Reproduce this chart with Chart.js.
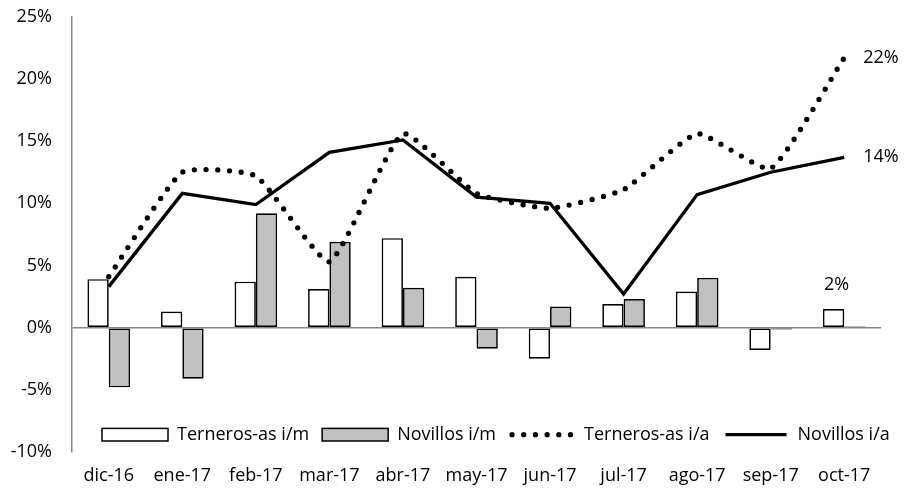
<!DOCTYPE html>
<html>
  <head>
    <script src="https://cdn.jsdelivr.net/npm/chart.js@4.4.0/dist/chart.umd.min.js"></script>
    <style>
      body {
        margin: 0;
        background-color: white;
      }
    </style>
  </head>
  <body>
    <canvas id="myChart" width="921" height="490"></canvas>
  <script>
    // months on the x axis
    let months = ['dic-16', 'ene-17', 'feb-17', 'mar-17', 'abr-17', 'may-17', 'jun-17', 'jul-17', 'ago-17', 'sep-17', 'oct-17'];
    // monthly change (%), bars
    let ternerosMes = [3.9, 1.3, 3.7, 3.1, 7.2, 4.1, -2.5, 1.9, 2.9, -1.8, 1.5];
    let novillosMes = [-4.8, -4.1, 9.2, 6.9, 3.2, -1.7, 1.7, 2.3, 4.0, -0.15, 0.1];
    // yearly change (%), lines
    let ternerosAnio = [4.1, 12.5, 12.2, 5.3, 15.6, 10.8, 9.6, 11.1, 15.6, 12.8, 21.7];
    let novillosAnio = [3.3, 10.8, 9.9, 14.1, 15.1, 10.5, 10.0, 2.7, 10.7, 12.5, 13.7];
    // y axis ticks
    let yTicks = [-10, -5, 0, 5, 10, 15, 20, 25];

    let fontFamily = "'Open Sans', sans-serif";
    let gray = '#868686';

    // value labels at the end of the series
    let endLabels = {
      id: 'endLabels',
      afterDatasetsDraw(chart) {
        let ctx = chart.ctx;
        ctx.save();
        ctx.font = '18px ' + fontFamily;
        ctx.fillStyle = '#000';
        ctx.textBaseline = 'middle';
        [2, 3].forEach(function (i) {
          let pts = chart.getDatasetMeta(i).data;
          let p = pts[pts.length - 1];
          let vals = chart.data.datasets[i].data;
          ctx.textAlign = 'left';
          ctx.fillText(Math.round(vals[vals.length - 1]) + '%', p.x + 19, p.y);
        });
        let bars = chart.getDatasetMeta(0).data;
        let b = bars[bars.length - 1];
        ctx.textAlign = 'center';
        ctx.fillText(Math.round(ternerosMes[ternerosMes.length - 1]) + '%', b.x + 3, b.y - 24);
        ctx.restore();
      }
    };

    // legend drawn inside the plot, near the bottom
    let bottomLegend = {
      id: 'bottomLegend',
      afterDraw(chart) {
        let ctx = chart.ctx;
        let ds = chart.data.datasets;
        let x = 102;
        let y = 434.7;
        ctx.save();
        ctx.font = '18px ' + fontFamily;
        ctx.textBaseline = 'middle';
        ctx.textAlign = 'left';
        for (let i = 0; i < ds.length; i++) {
          if (i < 2) {
            ctx.fillStyle = ds[i].backgroundColor;
            ctx.fillRect(x, y - 6.3, 66, 12.6);
            ctx.strokeStyle = '#000';
            ctx.lineWidth = 1.5;
            ctx.strokeRect(x, y - 6.3, 66, 12.6);
          } else {
            ctx.strokeStyle = '#000';
            ctx.lineWidth = ds[i].borderWidth;
            ctx.lineCap = ds[i].borderCapStyle || 'butt';
            ctx.setLineDash(ds[i].borderDash || []);
            ctx.beginPath();
            ctx.moveTo(x + 3, y);
            ctx.lineTo(x + 64, y);
            ctx.stroke();
            ctx.setLineDash([]);
          }
          x += 75;
          ctx.fillStyle = '#000';
          ctx.fillText(ds[i].label, x, y);
          x += ctx.measureText(ds[i].label).width + 13;
        }
        ctx.restore();
      }
    };

    let ctx = document.getElementById('myChart').getContext('2d');
    let myChart = new Chart(ctx, {
      type: 'bar',
      data: {
        labels: months,
        datasets: [
          {
            label: 'Terneros-as i/m',
            data: ternerosMes,
            backgroundColor: '#ffffff',
            borderColor: '#000000',
            borderWidth: 1.7,
            borderSkipped: false,
            categoryPercentage: 0.58,
            barPercentage: 1,
            order: 2
          },
          {
            label: 'Novillos i/m',
            data: novillosMes,
            backgroundColor: '#c0c0c0',
            borderColor: '#000000',
            borderWidth: 1.7,
            borderSkipped: false,
            categoryPercentage: 0.58,
            barPercentage: 1,
            order: 2
          },
          {
            type: 'line',
            label: 'Terneros-as i/a',
            data: ternerosAnio,
            borderColor: '#000000',
            borderWidth: 5.3,
            borderDash: [0, 11.7],
            borderCapStyle: 'round',
            tension: 0.15,
            pointRadius: 0,
            fill: false,
            order: 1
          },
          {
            type: 'line',
            label: 'Novillos i/a',
            data: novillosAnio,
            borderColor: '#000000',
            borderWidth: 3.3,
            borderJoinStyle: 'miter',
            tension: 0,
            pointRadius: 0,
            fill: false,
            order: 0
          }
        ]
      },
      options: {
        responsive: false,
        animation: false,
        layout: {
          autoPadding: false,
          padding: { left: 10, right: 40, top: 4, bottom: 4 }
        },
        plugins: {
          legend: { display: false },
          tooltip: { enabled: false }
        },
        scales: {
          x: {
            grid: { display: false, drawTicks: false },
            border: { display: false },
            afterFit: function (axis) {
              axis.height = 34;
            },
            ticks: {
              color: '#000',
              font: { family: fontFamily, size: 18 },
              padding: 13,
              maxRotation: 0
            }
          },
          y: {
            min: yTicks[0],
            max: yTicks[yTicks.length - 1],
            afterBuildTicks: function (axis) {
              axis.ticks = yTicks.map(function (v) { return { value: v }; });
            },
            afterFit: function (axis) {
              axis.width = 62;
            },
            grid: {
              drawTicks: true,
              tickLength: 14,
              tickColor: 'rgba(0,0,0,0)',
              lineWidth: 1.5,
              color: function (c) { return c.tick && c.tick.value === 0 ? gray : 'rgba(0,0,0,0)'; }
            },
            border: { display: true, color: gray, width: 1.5 },
            ticks: {
              color: '#000',
              font: { family: fontFamily, size: 18 },
              padding: 6,
              callback: function (v) { return v + '%'; }
            }
          }
        }
      },
      plugins: [endLabels, bottomLegend]
    });
  </script>
  </body>
</html>
